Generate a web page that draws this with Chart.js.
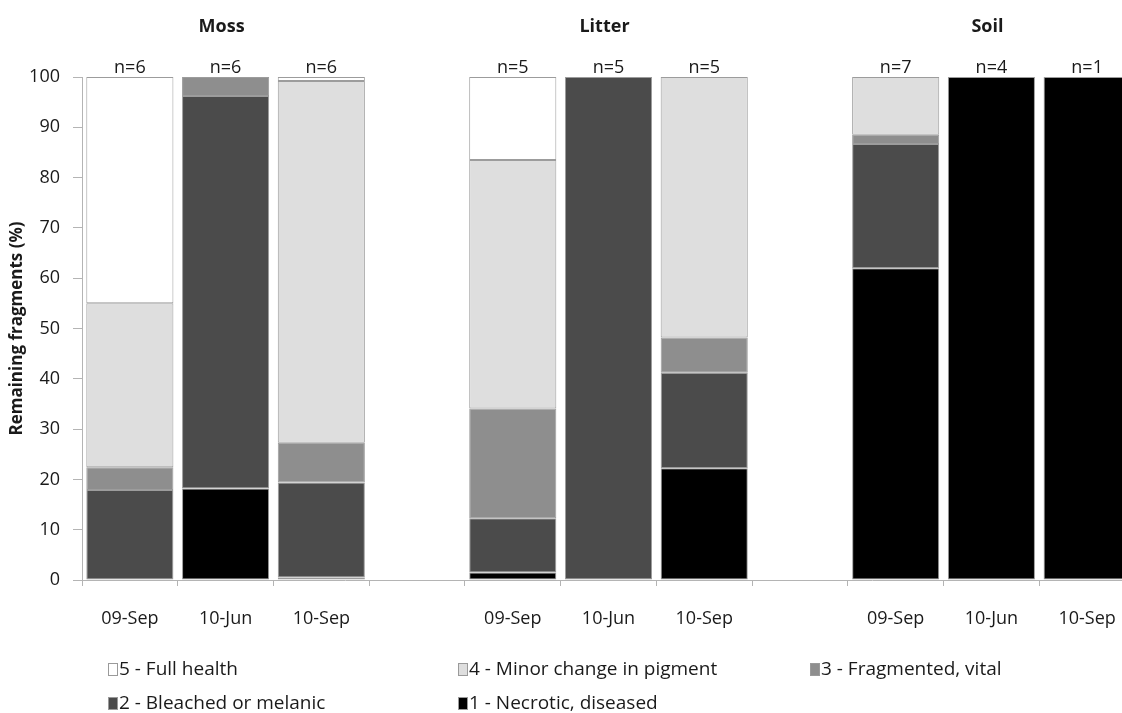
<!DOCTYPE html>
<html>
<head>
<meta charset="utf-8">
<title>Remaining fragments by health class</title>
<script src="https://cdn.jsdelivr.net/npm/chart.js@4.4.1/dist/chart.umd.min.js"></script>
<style>
  html, body { margin: 0; padding: 0; background: #ffffff; overflow: hidden; }
  #wrap { position: relative; width: 1122px; height: 713px; overflow: hidden; }
  #chart { position: absolute; left: 0; top: 0; }
  #legend { position: absolute; left: 0; top: 0; width: 1122px; height: 713px; pointer-events: none;
            font-family: "Open Sans", sans-serif; font-size: 19px; color: #1a1a1a; }
  .item { position: absolute; white-space: nowrap; line-height: 20px; }
  .swatch { position: absolute; left: 0; top: 3px; width: 8px; height: 11px; border: 1px solid #9a9a9a; box-sizing: content-box; }
  .item span.txt { position: absolute; left: 11px; top: -2px; }
</style>
</head>
<body>
<div id="wrap">
  <canvas id="chart" width="1140" height="713"></canvas>
  <div id="legend"></div>
</div>
<script>
// Habitats and sampling dates
const groups = ['Moss', 'Litter', 'Soil'];
const dates = ['09-Sep', '10-Jun', '10-Sep'];
// Number of fragments per bar (habitat x date)
const sampleSizes = [6, 6, 6, 5, 5, 5, 7, 4, 1];

// Health classes, stacked bottom to top
const classNames = ['1 - Necrotic, diseased', '2 - Bleached or melanic', '3 - Fragmented, vital',
                    '4 - Minor change in pigment', '5 - Full health'];
const classColors = ['#000000', '#4b4b4b', '#8e8e8e', '#dedede', '#ffffff'];

// Percent of remaining fragments in each class, per bar (Moss x3, Litter x3, Soil x3)
const necrotic   = [0,    18.2, 0.5,  1.5,  0,   22.2, 62,   100, 100];
const bleached   = [17.9, 78,   18.9, 10.8, 100, 19,   24.7, 0,   0];
const fragmented = [4.5,  3.8,  7.9,  21.8, 0,   7,    1.8,  0,   0];
const minor      = [32.6, 0,    71.9, 49.4, 0,   51.8, 11.5, 0,   0];
const fullHealth = [45,   0,    0.8,  16.5, 0,   0,    0,    0,   0];

const yTicks = [0, 10, 20, 30, 40, 50, 60, 70, 80, 90, 100];

// Category slots: three dates per habitat with an empty slot between habitats
const labels = [];
const slotOfBar = [];
groups.forEach((g, gi) => {
  if (gi > 0) labels.push('');
  dates.forEach(d => { slotOfBar.push(labels.length); labels.push(d); });
});
function toSlots(values) {
  const out = labels.map(() => null);
  values.forEach((v, i) => { out[slotOfBar[i]] = v > 0 ? v : null; });
  return out;
}

const series = [necrotic, bleached, fragmented, minor, fullHealth];
const datasets = series.map((vals, i) => ({
  label: classNames[i],
  data: toSlots(vals),
  backgroundColor: classColors[i],
  borderColor: '#9c9c9c',
  borderWidth: 1,
  borderSkipped: false,
  barPercentage: 0.91,
  categoryPercentage: 1.0
}));

const FONT = '"Open Sans", sans-serif';
const TEXT = '#1a1a1a';

// Sample sizes above each bar and habitat names above each group
const annotate = {
  id: 'annotate',
  afterDraw(chart) {
    const ctx = chart.ctx;
    const x = chart.scales.x;
    const top = chart.chartArea.top;
    ctx.save();
    ctx.fillStyle = TEXT;
    ctx.textAlign = 'center';
    ctx.textBaseline = 'alphabetic';
    ctx.font = '18px ' + FONT;
    sampleSizes.forEach((n, i) => {
      ctx.fillText('n=' + n, x.getPixelForValue(slotOfBar[i]), top - 4);
    });
    ctx.font = 'bold 18px ' + FONT;
    groups.forEach((g, gi) => {
      const mid = slotOfBar[gi * 3 + 1];
      ctx.fillText(g, x.getPixelForValue(mid) - 4, 32);
    });
    ctx.restore();
  }
};

const chart = new Chart(document.getElementById('chart'), {
  type: 'bar',
  data: { labels, datasets },
  plugins: [annotate],
  options: {
    responsive: false,
    devicePixelRatio: 1,
    animation: false,
    layout: { padding: { top: 77, bottom: 83, left: 0, right: 5 } },
    plugins: { legend: { display: false }, tooltip: { enabled: false } },
    scales: {
      x: {
        stacked: true,
        afterFit(scale) { scale.height = 50; },
        grid: { display: true, offset: true, drawOnChartArea: false, drawTicks: true,
                tickLength: 6, color: '#b4b4b4' },
        border: { display: true, color: '#b4b4b4', width: 1 },
        ticks: { color: TEXT, font: { family: FONT, size: 18 }, padding: 22,
                 autoSkip: false, maxRotation: 0 }
      },
      y: {
        stacked: true,
        min: 0, max: 100,
        afterFit(scale) { scale.width = 82; },
        afterBuildTicks(scale) { scale.ticks = yTicks.map(v => ({ value: v })); },
        grid: { display: true, drawOnChartArea: false, drawTicks: true,
                tickLength: 9, color: '#b4b4b4' },
        border: { display: true, color: '#b4b4b4', width: 1 },
        ticks: { color: TEXT, font: { family: FONT, size: 18 }, padding: 13 },
        title: { display: true, text: 'Remaining fragments (%)', color: TEXT,
                 font: { family: FONT, size: 17, weight: 'bold' }, padding: { top: 7, bottom: 0 } }
      }
    }
  }
});

// Legend in three columns, healthiest class first
const legendPos = [
  { cls: 4, left: 108, top: 660 },
  { cls: 3, left: 458, top: 660 },
  { cls: 2, left: 810, top: 660 },
  { cls: 1, left: 108, top: 694 },
  { cls: 0, left: 458, top: 694 }
];
const legend = document.getElementById('legend');
legendPos.forEach(p => {
  const item = document.createElement('div');
  item.className = 'item';
  item.style.left = p.left + 'px';
  item.style.top = p.top + 'px';
  const sw = document.createElement('div');
  sw.className = 'swatch';
  sw.style.background = classColors[p.cls];
  const txt = document.createElement('span');
  txt.className = 'txt';
  txt.textContent = classNames[p.cls];
  item.appendChild(sw);
  item.appendChild(txt);
  legend.appendChild(item);
});
</script>
</body>
</html>
